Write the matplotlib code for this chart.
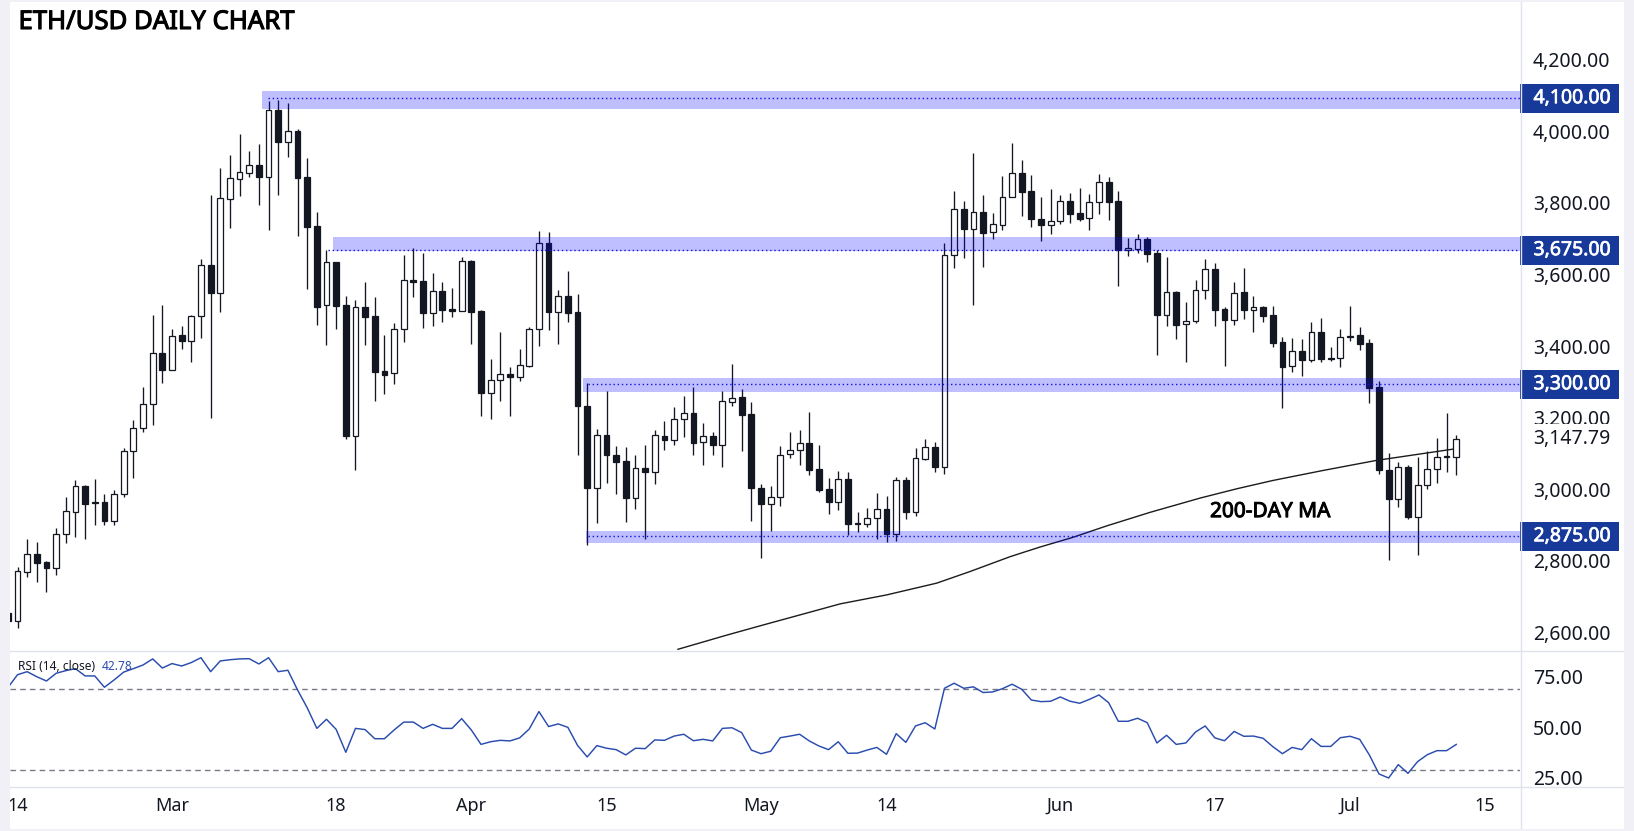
import matplotlib
matplotlib.use("Agg")
import matplotlib.pyplot as plt
import matplotlib.patheffects as pe
from matplotlib.patches import Rectangle
from matplotlib.lines import Line2D
from matplotlib.ticker import FuncFormatter
from matplotlib.transforms import blended_transform_factory

plt.rcParams['font.family'] = ['Noto Sans', 'DejaVu Sans']

W, H = 1634, 831

# daily candles, first entry is the day before the first tick label (partly hidden at the edge)
first_day = -1
opens = [2660,2639,2776,2825,2802,2785,2880,2944,3015,2971,2971,2919,2992,3113,3177,3244,3387,3341,3438,3422,
 3490,3633,3556,3819,3875,3892,3912,3881,4066,3978,4007,3879,3742,3521,3641,3521,3156,3515,3490,3336,
 3331,3454,3591,3589,3498,3560,3510,3506,3644,3504,3277,3311,3329,3320,3352,3454,3694,3503,3547,3502,
 3239,3011,3158,3102,3086,2983,3066,3056,3155,3145,3202,3219,3138,3155,3129,3251,3265,3217,3010,2966,
 2984,3104,3115,3136,3062,3006,2972,3034,2911,2910,2927,2951,2880,3032,2944,3092,3125,3070,3661,3789,
 3735,3781,3725,3746,3823,3890,3840,3761,3745,3758,3812,3778,3764,3809,3865,3812,3675,3679,3705,3666,
 3495,3557,3468,3478,3565,3621,3510,3481,3557,3509,3515,3493,3417,3350,3392,3369,3445,3373,3373,3431,
 3437,3415,3292,3060,2980,3068,2930,3017,3064,3100,3098]
highs = [2662,2790,2868,2858,2806,2897,2985,3033,3019,3035,2993,3005,3121,3200,3292,3494,3522,3455,3463,3495,
 3650,3829,3905,3941,4000,3952,3972,4092,4095,4087,4013,3932,3781,3676,3642,3547,3536,3586,3543,3438,
 3471,3662,3680,3667,3610,3586,3568,3656,3647,3508,3371,3446,3348,3398,3459,3729,3726,3564,3617,3553,
 3303,3175,3281,3127,3125,3102,3130,3172,3197,3237,3267,3292,3192,3167,3281,3357,3286,3251,3020,3016,
 3127,3167,3172,3223,3130,3038,3058,3055,2943,2954,2996,2988,3041,3041,3122,3147,3139,3694,3840,3812,
 3947,3829,3779,3882,3974,3927,3885,3824,3846,3829,3835,3849,3832,3888,3880,3840,3708,3719,3711,3675,
 3656,3560,3530,3592,3649,3639,3515,3586,3625,3547,3519,3519,3431,3429,3427,3474,3485,3404,3455,3519,
 3460,3427,3308,3108,3083,3074,3097,3114,3150,3220,3158]
lows = [2637,2619,2762,2746,2720,2768,2857,2874,2868,2907,2907,2907,2986,3039,3167,3186,3304,3341,3399,3362,
 3430,3207,3502,3737,3827,3881,3802,3732,3829,3936,3716,3567,3467,3411,3456,3147,3059,3411,3252,3273,
 3302,3419,3544,3457,3464,3475,3489,3506,3414,3212,3204,3254,3212,3310,3347,3408,3452,3414,3474,3101,
 2852,2913,3025,2992,2916,2952,2866,3020,3116,3130,3153,3103,3073,3103,3070,3239,3114,2918,2815,2890,
 2961,3094,3074,3047,3000,2938,2949,2879,2887,2902,2866,2859,2863,2924,2933,3087,3056,3050,3626,3654,
 3523,3629,3707,3732,3823,3771,3741,3702,3721,3749,3752,3758,3732,3777,3760,3576,3659,3668,3642,3382,
 3464,3428,3361,3472,3539,3464,3352,3467,3483,3447,3475,3405,3235,3335,3324,3361,3361,3366,3349,3422,
 3397,3249,3050,2810,2957,2922,2824,3006,3025,3056,3047]
closes = [2639,2777,2825,2801,2785,2881,2945,3015,2966,2969,2919,2992,3113,3177,3244,3387,3341,3434,3422,3490,
 3633,3556,3820,3876,3893,3912,3881,4066,3978,4007,3878,3741,3517,3641,3520,3156,3515,3489,3335,3327,
 3454,3591,3586,3498,3560,3509,3506,3644,3503,3277,3311,3328,3319,3353,3454,3694,3503,3546,3500,3238,
 3011,3157,3101,3084,2983,3065,3056,3157,3145,3202,3219,3137,3155,3129,3252,3261,3215,3011,2966,2986,
 3101,3115,3135,3061,3005,2972,3034,2908,2910,2927,2951,2880,3032,2944,3093,3124,3070,3661,3789,3735,
 3781,3724,3747,3823,3890,3839,3761,3746,3758,3812,3777,3763,3809,3865,3811,3675,3680,3705,3665,3495,
 3557,3467,3478,3565,3621,3509,3481,3556,3509,3515,3492,3416,3349,3392,3369,3445,3372,3370,3431,3436,
 3414,3290,3059,2980,3068,2930,3017,3064,3098,3098,3147.79]

# 200-day moving average, read at a few days
ma_days = [68.4,73.5,77.9,82.1,85.2,90.0,95.2,98.6,102.8,105.9,109.3,112.8,117.3,122.5,126.3,130.0,135.2,140.7,149]
ma_values = [2559,2599,2632,2663,2686,2711,2744,2776,2818,2845,2872,2904,2942,2982,3008,3031,3059,3087,3120]

# RSI per day, same day numbering as the candles
rsi_values = [70.8,77.2,78.7,76.2,74.1,77.9,79.2,80.2,76.6,76.6,71.0,74.6,78.5,80.2,82.0,85.0,80.5,82.7,81.5,83.2,
 85.6,78.7,84.0,84.6,85.0,85.1,82.5,85.6,78.7,79.4,69.7,60.9,50.7,55.2,50.2,38.9,50.7,50.1,45.6,45.6,
 49.9,53.8,53.8,50.7,52.7,50.7,50.7,55.5,49.9,42.8,44.1,44.8,44.5,46.0,50.4,59.0,51.6,52.9,51.2,42.3,
 36.6,42.2,40.9,40.2,37.6,40.9,40.7,45.0,44.8,46.9,47.8,44.6,45.3,44.5,50.7,51.0,48.6,40.0,38.2,39.4,
 46.1,46.9,47.8,44.5,42.0,40.2,44.1,38.4,38.5,40.0,41.3,37.9,48.1,43.8,51.9,53.5,50.4,70.5,73.0,70.5,
 71.2,68.4,68.7,70.3,72.5,70.0,64.7,63.9,64.1,66.2,64.1,63.1,65.0,67.2,63.4,54.2,54.2,55.7,53.5,43.5,
 47.3,42.8,43.5,48.9,51.9,46.0,44.6,49.2,46.8,46.9,45.8,41.7,38.2,41.3,40.2,45.6,41.8,41.8,46.1,46.8,
 45.3,37.6,28.2,26.2,32.8,28.5,34.3,37.7,39.7,39.7,42.78]

# support and resistance zones
zone_levels = [4100, 3675, 3300, 2875]
zone_tops = [4120, 3712, 3318, 2890]
zone_bottoms = [4070, 3674, 3279, 2856.5]
zone_starts = [25.35, 32.7, 58.6, 58.9]
level_starts = [25.9, 32.2, 59.1, 59.1]

price_ticks = [2600, 2800, 3000, 3200, 3400, 3600, 3800, 4000, 4200]
rsi_ticks = [25, 50, 75]
rsi_bands = [30, 70]
date_positions = [0, 16, 33, 47, 61, 77, 90, 108, 124, 138, 152]
date_labels = ['14', 'Mar', '18', 'Apr', '15', 'May', '14', 'Jun', '17', 'Jul', '15']
last_price = 3147.79
last_rsi = 42.78

INK = '#131722'
BLUE = '#2a4cae'
BOX = '#17399a'
GRID = '#e0e3eb'
FRAME = '#f0f0f6'

AXIS_X, PAGE_R = 1520, 1624
AX_W = AXIS_X - 10
PX0, PITCH = 17.5, 9.656


def day_at(px):
    return (px - PX0) / PITCH


def axes_px(fig, left, top, right, bottom, **kw):
    return fig.add_axes([left / W, 1 - bottom / H, (right - left) / W, (bottom - top) / H], **kw)


def heavy(width, colour):
    return [pe.withStroke(linewidth=width, foreground=colour)]


fig = plt.figure(figsize=(W / 100, H / 100), dpi=100, facecolor='white')
ax = axes_px(fig, 10, 2, AXIS_X, 650)
rs = axes_px(fig, 10, 650, AXIS_X, 786)
tx = axes_px(fig, 10, 786, PAGE_R, 829, zorder=5)

days = list(range(first_day, first_day + len(opens)))
xlim = (day_at(10), day_at(AXIS_X))

# candles
ax.vlines(days, lows, highs, color=INK, lw=0.95, zorder=2)
for d, o, c in zip(days, opens, closes):
    ax.bar(d, abs(c - o), bottom=min(o, c), width=0.60,
           facecolor='white' if c >= o else INK, edgecolor=INK, linewidth=0.9, zorder=3)

# moving average
ax.plot(ma_days, ma_values, color='#1b1b1f', lw=1.0, zorder=2.5)

# zones
xr = xlim[1]
for lvl, t, b, s, ls in zip(zone_levels, zone_tops, zone_bottoms, zone_starts, level_starts):
    ax.add_patch(Rectangle((s, b), xr - s, t - b, facecolor='#0000ff', alpha=0.25, lw=0, zorder=4))
    ax.plot([ls, xr], [lvl, lvl], color='#1212d6', lw=1.0, linestyle=(0, (1, 2)), zorder=4.5)

ax.set_xlim(xlim)
ax.set_ylim(2557, 4369)
ax.set_xticks([])
ax.yaxis.tick_right()
ax.set_yticks(price_ticks)
ax.yaxis.set_major_formatter(FuncFormatter(lambda v, _: f'{v:,.2f}'))
ax.tick_params(axis='y', length=0, pad=9.2, labelsize=14, labelcolor=INK)
for lab in ax.get_yticklabels():
    lab.set_verticalalignment('center')
for s in ax.spines.values():
    s.set_visible(False)

# price badges in the axis strip
tr = blended_transform_factory(ax.transAxes, ax.transData)
strip = 99 / AX_W
for lvl in zone_levels:
    ax.add_patch(Rectangle((1.0, lvl - 41), strip, 82, transform=tr, facecolor=BOX,
                           lw=0, clip_on=False, zorder=6))
    ax.text(1 + 13.5 / AX_W, lvl, f'{lvl:,.2f}', transform=tr, color='white', fontsize=14,
            va='center', ha='left', zorder=7, clip_on=False, path_effects=heavy(0.5, 'white'))
ax.add_patch(Rectangle((1.0, last_price - 41), strip, 82, transform=tr, facecolor='white',
                       lw=0, clip_on=False, zorder=6))
ax.text(1 + 13.5 / AX_W, last_price, f'{last_price:,.2f}', transform=tr, color=INK, fontsize=14,
        va='center', ha='left', zorder=7, clip_on=False)

ax.text(day_at(1210), 2944, '200-DAY MA', fontsize=15, color='black',
        va='center', ha='left', zorder=7, path_effects=heavy(0.7, 'black'))
fig.text(18.5 / W, 1 - 22.5 / H, 'ETH/USD DAILY CHART', fontsize=18.5,
         color='black', va='center', ha='left', zorder=8, path_effects=heavy(0.8, 'black'))

# RSI pane
rs.plot(days, rsi_values, color=BLUE, lw=1.05, zorder=3)
for v in rsi_bands:
    rs.axhline(v, color='#787b86', lw=1.0, linestyle=(0, (4, 3)), zorder=2)
rs.set_xlim(xlim)
rs.set_ylim(22.25, 89.4)
rs.set_xticks([])
rs.yaxis.tick_right()
rs.set_yticks(rsi_ticks)
rs.yaxis.set_major_formatter(FuncFormatter(lambda v, _: f'{v:.2f}'))
rs.tick_params(axis='y', length=0, pad=9.2, labelsize=14, labelcolor=INK)
for lab in rs.get_yticklabels():
    lab.set_verticalalignment('center')
for s in rs.spines.values():
    s.set_visible(False)
fig.text(18.3 / W, 1 - 666 / H, 'RSI (14, close)', fontsize=8.6, color=INK, va='center', zorder=8)
fig.text(101.7 / W, 1 - 666 / H, f'{last_rsi:.2f}', fontsize=8.6, color=BLUE, va='center', zorder=8)

# date axis
tx.set_xlim(day_at(10), day_at(PAGE_R))
tx.set_ylim(0, 1)
tx.set_yticks([])
tx.set_xticks(date_positions)
tx.set_xticklabels(date_labels)
tx.tick_params(axis='x', length=0, labelsize=13, labelcolor=INK, pad=-23)
for s in tx.spines.values():
    s.set_visible(False)

# separators and the page frame
for xs, ys in [((10, PAGE_R), (650.5, 650.5)), ((10, PAGE_R), (786.5, 786.5)), ((AXIS_X + 0.5, AXIS_X + 0.5), (2, 829))]:
    fig.add_artist(Line2D([x / W for x in xs], [1 - y / H for y in ys], color=GRID, lw=1.0, zorder=9))
for x0, y0, x1, y1 in [(0, 0, 10, H), (0, 0, W, 2), (0, 829, W, H), (PAGE_R, 0, W, H)]:
    fig.add_artist(Rectangle((x0 / W, 1 - y1 / H), (x1 - x0) / W, (y1 - y0) / H,
                             transform=fig.transFigure, facecolor=FRAME, lw=0, zorder=10))

fig.savefig('out.png', dpi=100)
